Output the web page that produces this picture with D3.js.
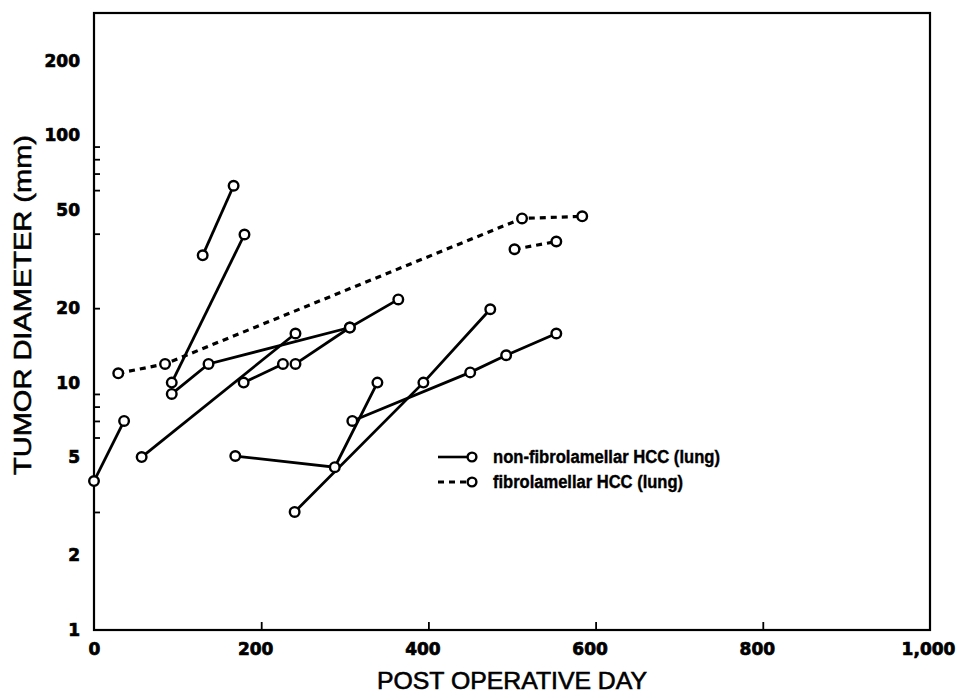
<!DOCTYPE html>
<html>
<head>
<meta charset="utf-8">
<script src="https://cdn.jsdelivr.net/npm/d3@7"></script>
<style>
  body { margin: 0; background: #fff; }
  svg { display: block; }
</style>
</head>
<body>
<svg id="chart" width="960" height="694"></svg>
<script>
// tumour diameters (mm) by post operative day, one array per patient
const nonFibro = [
  [[0, 4.0], [36, 7.0]],
  [[130, 32.7], [167, 62.5]],
  [[93, 10.0], [180, 39.7]],
  [[93, 9.0], [137, 11.9], [306, 16.7], [364, 21.7]],
  [[57, 5.0], [241, 15.8]],
  [[179, 10.0], [226, 11.9]],
  [[241, 11.9], [306, 16.7]],
  [[169, 5.05], [288, 4.55], [339, 10.0]],
  [[240, 3.0], [394, 10.0], [474, 19.8]],
  [[309, 7.0], [450, 11.0], [493, 12.9], [553, 15.8]]
]
const fibro = [
  [[29, 10.9], [85, 11.9], [512, 46.1], [584, 47.0]],
  [[503, 34.6], [553, 37.2]]
]
const xTicks = [0, 200, 400, 600, 800, 1000]
const yLabels = [1, 2, 5, 10, 20, 50, 100, 200]
const yMinor = [3, 6, 7, 8, 9, 20, 40, 60, 70, 80, 90]
const legendItems = [
  {name: "non-fibrolamellar HCC (lung)", dash: null},
  {name: "fibrolamellar HCC (lung)", dash: "6,5"}
]

/*** Setup ***/
var svg = d3.select("#chart")
var L = 94, R = 930, T = 13, B = 630
var x = d3.scaleLinear().domain([0, 1000]).range([L, R])
var y = d3.scaleLog().domain([1, 312]).range([B, T])
var line = d3.line().x((d) => x(d[0])).y((d) => y(d[1]))

// frame
svg.append("rect")
   .attr("x", L).attr("y", T)
   .attr("width", R - L).attr("height", B - T)
   .attr("fill", "none").attr("stroke", "#000").attr("stroke-width", 2.2)

// bottom axis: inward ticks, labels below
var xa = svg.append("g")
            .attr("transform", "translate(0," + B + ")")
            .call(d3.axisBottom(x).tickValues(xTicks).tickSize(-8).tickPadding(13)
                    .tickFormat(d3.format(",")))
xa.select(".domain").remove()
xa.selectAll(".tick line").attr("stroke-width", 1.8)
  .filter((d) => d == 0 || d == 1000).remove()
xa.selectAll("text")
  .attr("font-family", "DejaVu Sans").attr("font-weight", "bold")
  .attr("font-size", 17).attr("fill", "#000")
  .attr("stroke", "#000").attr("stroke-width", 0.7)
  .attr("dx", (d) => d == 0 ? 0 : d == 1000 ? -2 : -6)

// left axis labels
var ya = svg.append("g")
            .attr("transform", "translate(" + L + ",0)")
            .call(d3.axisLeft(y).tickValues(yLabels).tickSize(0).tickPadding(14)
                    .tickFormat(d3.format("d")))
ya.select(".domain").remove()
ya.selectAll("text")
  .attr("font-family", "DejaVu Sans").attr("font-weight", "bold")
  .attr("font-size", 17).attr("fill", "#000")
  .attr("stroke", "#000").attr("stroke-width", 0.7)

// left minor ticks, inward
var ym = svg.append("g")
            .attr("transform", "translate(" + L + ",0)")
            .call(d3.axisLeft(y).tickValues(yMinor).tickSize(-6).tickFormat(""))
ym.select(".domain").remove()
ym.selectAll(".tick line").attr("stroke-width", 1.8)

// axis titles
svg.append("text")
   .attr("x", 512).attr("y", 689)
   .attr("text-anchor", "middle")
   .attr("font-family", "Liberation Sans Narrow, Arial Narrow, sans-serif")
   .attr("font-size", 24)
   .attr("stroke", "#000").attr("stroke-width", 0.6)
   .attr("textLength", 270).attr("lengthAdjust", "spacingAndGlyphs")
   .text("POST OPERATIVE DAY")
svg.append("text")
   .attr("transform", "translate(31,305) rotate(-90)")
   .attr("text-anchor", "middle")
   .attr("font-family", "Liberation Sans Narrow, Arial Narrow, sans-serif")
   .attr("font-size", 24)
   .attr("stroke", "#000").attr("stroke-width", 0.6)
   .attr("textLength", 340).attr("lengthAdjust", "spacingAndGlyphs")
   .text("TUMOR DIAMETER (mm)")

/*** Series ***/
function drawSeries(data, dash) {
  var g = svg.append("g")
  g.selectAll("path")
   .data(data)
   .enter()
   .append("path")
   .attr("d", line)
   .attr("fill", "none").attr("stroke", "#000")
   .attr("stroke-width", dash ? 3.2 : 2.8)
   .attr("stroke-dasharray", dash)
  g.selectAll("circle")
   .data(data.flat())
   .enter()
   .append("circle")
   .attr("cx", (d) => x(d[0])).attr("cy", (d) => y(d[1]))
   .attr("r", 4.8)
   .attr("fill", "#fff").attr("stroke", "#000").attr("stroke-width", 2.4)
}
drawSeries(fibro, "6,5")
drawSeries(nonFibro, null)

/*** Legend ***/
var lg = svg.append("g")
            .selectAll("g")
            .data(legendItems)
            .enter()
            .append("g")
            .attr("transform", (d, i) => "translate(438," + (457 + i * 25) + ")")
lg.append("line")
  .attr("x1", 0).attr("x2", 30).attr("y1", 0).attr("y2", 0)
  .attr("stroke", "#000").attr("stroke-width", (d) => d.dash ? 3.2 : 2.6)
  .attr("stroke-dasharray", (d) => d.dash)
lg.append("circle")
  .attr("cx", 34).attr("cy", 0).attr("r", 4.4)
  .attr("fill", "#fff").attr("stroke", "#000").attr("stroke-width", 2.4)
lg.append("text")
  .attr("x", 55).attr("y", 6)
  .attr("font-family", "Liberation Sans Narrow, Arial Narrow, sans-serif")
  .attr("font-weight", "bold").attr("font-size", 18)
  .attr("stroke", "#000").attr("stroke-width", 0.4)
  .attr("textLength", (d, i) => i == 0 ? 227 : 190).attr("lengthAdjust", "spacingAndGlyphs")
  .text((d) => d.name)
</script>
</body>
</html>
